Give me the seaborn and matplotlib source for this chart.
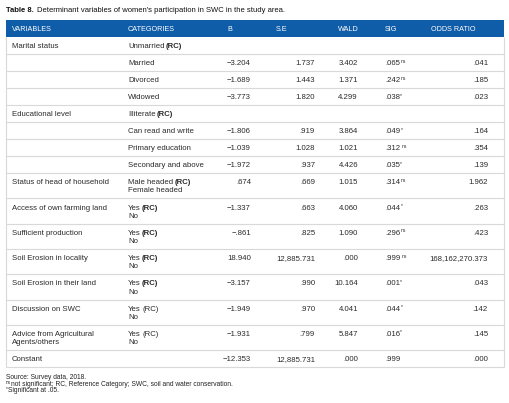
import matplotlib
matplotlib.use('Agg')
import matplotlib.pyplot as plt
import seaborn as sns

# table content, one entry per table row
variables = ['Marital status', '', '', '', 'Educational level', '', '', '',
             'Status of head of household', 'Access of own farming land',
             'Sufficient production', 'Soil Erosion in locality',
             'Soil Erosion in their land', 'Discussion on SWC',
             'Advice from Agricultural\nAgents/others', 'Constant']
categories = ['Unmarried', 'Married', 'Divorced', 'Widowed', 'Illiterate',
              'Can read and write', 'Primary education', 'Secondary and above',
              'Male headed', 'Yes', 'Yes', 'Yes', 'Yes', 'Yes', 'Yes', '']
categories_2 = ['', '', '', '', '', '', '', '', 'Female headed',
                'No', 'No', 'No', 'No', 'No', 'No', '']
ref_cat = [True, False, False, False, True, False, False, False,
           True, True, True, True, True, True, True, False]
ref_bold = [True, False, False, False, True, False, False, False,
            True, True, True, True, True, False, False, False]
b = [None, -3.204, -1.689, -3.773, None, -1.806, -1.039, -1.972,
     0.674, -1.337, -0.861, 18.940, -3.157, -1.949, -1.931, -12.353]
se = [None, 1.737, 1.443, 1.820, None, 0.919, 1.028, 0.937,
      0.669, 0.663, 0.825, 12885.731, 0.990, 0.970, 0.799, 12885.731]
wald = [None, 3.402, 1.371, 4.299, None, 3.864, 1.021, 4.426,
        1.015, 4.060, 1.090, 0.000, 10.164, 4.041, 5.847, 0.000]
sig = [None, 0.065, 0.242, 0.038, None, 0.049, 0.312, 0.035,
       0.314, 0.044, 0.296, 0.999, 0.001, 0.044, 0.016, 0.999]
sig_mark = ['', 'ns', 'ns', '*', '', '*', ' ns', '*',
            'ns', '*', 'ns', ' ns', '*', '*', '*', '']
odds = [None, 0.041, 0.185, 0.023, None, 0.164, 0.354, 0.139,
        1.962, 0.263, 0.423, 168162270.373, 0.043, 0.142, 0.145, 0.000]

headers = ['VARIABLES', 'CATEGORIES', 'B', 'S.E', 'WALD', 'SIG', 'ODDS RATIO']
title_bold = 'Table 8.'
title_rest = "Determinant variables of women's participation in SWC in the study area."
note_sup = ['', 'ns', '*']
note_text = ['Source: Survey data, 2018.',
             'not significant; RC, Reference Category; SWC, soil and water conservation.',
             'Significant at .05.']


def fmt(v):
    if v is None:
        return ''
    s = f'{abs(v):,.3f}'
    if s.startswith('0.'):
        s = s[1:]
    return ('\u2212' + s) if v < 0 else s


sns.set_theme(style='white')
plt.rcParams['font.family'] = ['Liberation Sans', 'DejaVu Sans']

W, H = 510, 403
fig = plt.figure(figsize=(W / 100, H / 100), dpi=100)
ax = fig.add_axes([0, 0, 1, 1])
ax.set_xlim(0, W)
ax.set_ylim(H, 0)
ax.axis('off')
fig.canvas.draw()
renderer = fig.canvas.get_renderer()

blue = '#0f5ca9'
grid = '#d9d9d9'
txt = '#2a2a2a'
fs = 5.6
left, right = 6, 504
head_top, head_bot = 19.5, 37
space_w = 1.3


def width(t):
    return t.get_window_extent(renderer).width


# title
t1 = ax.text(left, 11.5, title_bold, fontsize=5.5, fontweight='bold', color='#111')
ax.text(left + width(t1) + 3.5, 11.5, title_rest, fontsize=5.5, color='#111')

# header bar
ax.add_patch(plt.Rectangle((left, head_top), right - left, head_bot - head_top,
                           color=blue, lw=0))
head_x = [12, 128, 227, 276, 338, 385, 431]
for x, h in zip(head_x, headers):
    ax.text(x, head_bot - 6, h, fontsize=5.2, color='white')

# rows
x_var, x_cat = 12, 128
x_b, x_se, x_wald, x_sig, x_odds = 251, 315, 358, 385, 488
top = head_bot
for i in range(len(variables)):
    double = bool(categories_2[i]) or '\n' in variables[i]
    h = 25.3 if double else 17
    y1 = top + 11.2
    y2 = y1 + 8.2
    vlines = variables[i].split('\n')
    ax.text(x_var, y1, vlines[0], fontsize=fs, color=txt)
    if len(vlines) > 1:
        ax.text(x_var, y2, vlines[1], fontsize=fs, color=txt)
    ct = ax.text(x_cat, y1, categories[i], fontsize=fs, color=txt)
    if ref_cat[i]:
        ax.text(x_cat + width(ct) + space_w, y1, '(RC)', fontsize=fs, color=txt,
                fontweight='bold' if ref_bold[i] else 'normal')
    if categories_2[i]:
        ax.text(x_cat, y2, categories_2[i], fontsize=fs, color=txt)
    ax.text(x_b, y1, fmt(b[i]), fontsize=fs, color=txt, ha='right')
    ax.text(x_se, y1, fmt(se[i]), fontsize=fs, color=txt, ha='right')
    ax.text(x_wald, y1, fmt(wald[i]), fontsize=fs, color=txt, ha='right')
    if sig[i] is not None:
        st = ax.text(x_sig, y1, fmt(sig[i]), fontsize=fs, color=txt)
        if sig_mark[i]:
            gap = 1.6 if sig_mark[i].startswith(' ') else 0.3
            ax.text(x_sig + width(st) + gap, y1 - 2.6, sig_mark[i].strip(),
                    fontsize=3.6, color=txt)
    ax.text(x_odds, y1, fmt(odds[i]), fontsize=fs, color=txt, ha='right')
    top += h
    ax.hlines(top, left, right, color=grid, lw=0.8)

ax.vlines([left, right], head_bot, top, color=grid, lw=0.8)

# footnotes
ny = top + 12
for sup, n in zip(note_sup, note_text):
    x = left
    if sup:
        s = ax.text(x, ny - 1.8, sup, fontsize=3.4, color='#222')
        x += width(s) + 0.3
    ax.text(x, ny, n, fontsize=4.75, color='#222')
    ny += 6.4

fig.savefig('out.png', dpi=100)
